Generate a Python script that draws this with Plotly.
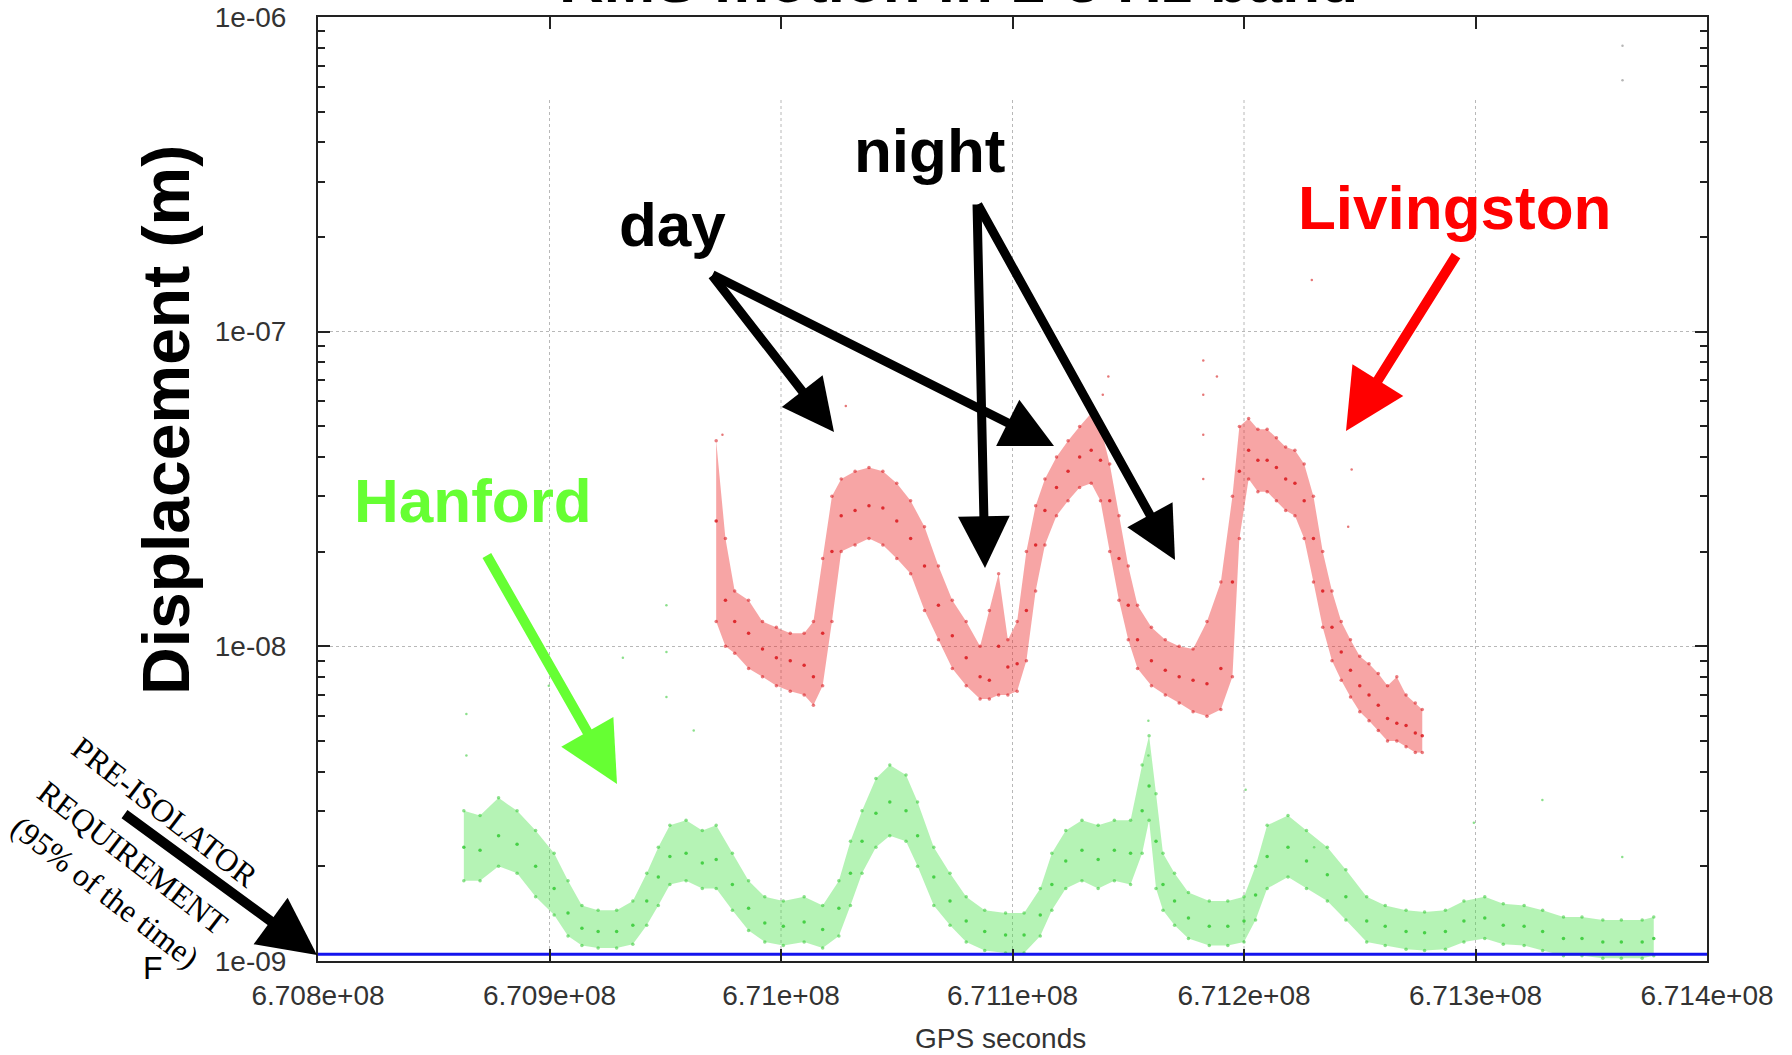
import plotly.graph_objects as go

# ---------------- data ----------------
LIV_T = [670972000, 670976000, 670980000, 670986000, 670992000, 670998000, 671004000, 671010000,
         671014000, 671018000, 671022000, 671026000, 671032000, 671038000, 671044000, 671050000,
         671056000, 671062000, 671068000, 671074000, 671080000, 671086000, 671090000, 671094000,
         671098000, 671102000, 671106000, 671110000, 671114000, 671119000, 671124000, 671129000,
         671134000, 671138000, 671142000, 671146000, 671150000, 671154000, 671160000, 671166000,
         671172000, 671178000, 671184000, 671190000, 671195000, 671198000, 671202000, 671206000,
         671210000, 671214000, 671218000, 671222000, 671226000, 671230000, 671234000, 671238000,
         671242000, 671246000, 671250000, 671254000, 671258000, 671262000, 671266000, 671270000,
         671274000, 671277000]
LIV_MED = [2.5e-8, 1.4e-8, 1.2e-8, 1.1e-8, 9.8e-9, 9.2e-9, 9.0e-9, 8.7e-9,
           8.0e-9, 1.1e-8, 2.0e-8, 2.6e-8, 2.7e-8, 2.8e-8, 2.75e-8, 2.5e-8,
           2.2e-8, 1.8e-8, 1.35e-8, 1.08e-8, 9.2e-9, 8.0e-9, 7.8e-9, 1.0e-8,
           8.6e-9, 8.8e-9, 1.3e-8, 2.1e-8, 2.7e-8, 3.2e-8, 3.6e-8, 4.0e-8,
           4.2e-8, 3.9e-8, 2.9e-8, 1.9e-8, 1.35e-8, 1.05e-8, 9.0e-9, 8.4e-9,
           8.0e-9, 7.8e-9, 7.6e-9, 8.5e-9, 1.6e-8, 3.6e-8, 4.2e-8, 3.9e-8,
           3.9e-8, 3.7e-8, 3.4e-8, 3.3e-8, 2.9e-8, 2.2e-8, 1.5e-8, 1.15e-8,
           9.6e-9, 8.4e-9, 7.5e-9, 7.0e-9, 6.5e-9, 5.9e-9, 5.7e-9, 5.6e-9,
           5.3e-9, 5.2e-9]
LIV_LO = [1.2e-8, 1.0e-8, 9.5e-9, 8.5e-9, 8.0e-9, 7.5e-9, 7.2e-9, 7.0e-9,
          6.5e-9, 7.5e-9, 1.2e-8, 2.0e-8, 2.1e-8, 2.2e-8, 2.1e-8, 1.9e-8,
          1.7e-8, 1.3e-8, 1.05e-8, 8.5e-9, 7.5e-9, 6.8e-9, 6.8e-9, 7.0e-9,
          7.0e-9, 7.2e-9, 9.0e-9, 1.5e-8, 2.1e-8, 2.6e-8, 2.9e-8, 3.2e-8,
          3.3e-8, 2.9e-8, 2.0e-8, 1.4e-8, 1.05e-8, 8.5e-9, 7.5e-9, 7.0e-9,
          6.6e-9, 6.2e-9, 6.0e-9, 6.3e-9, 8.0e-9, 2.2e-8, 3.4e-8, 3.1e-8,
          3.1e-8, 2.9e-8, 2.7e-8, 2.6e-8, 2.2e-8, 1.6e-8, 1.15e-8, 9.0e-9,
          7.8e-9, 6.9e-9, 6.2e-9, 5.8e-9, 5.4e-9, 5.0e-9, 5.0e-9, 4.8e-9,
          4.6e-9, 4.6e-9]
LIV_HI = [4.5e-8, 2.2e-8, 1.5e-8, 1.4e-8, 1.2e-8, 1.15e-8, 1.1e-8, 1.1e-8,
          1.2e-8, 1.9e-8, 3.0e-8, 3.4e-8, 3.6e-8, 3.7e-8, 3.6e-8, 3.3e-8,
          2.9e-8, 2.4e-8, 1.8e-8, 1.4e-8, 1.2e-8, 1.0e-8, 1.3e-8, 1.7e-8,
          1.05e-8, 1.2e-8, 2.0e-8, 2.8e-8, 3.4e-8, 4.0e-8, 4.5e-8, 5.0e-8,
          5.5e-8, 5.0e-8, 3.8e-8, 2.6e-8, 1.8e-8, 1.35e-8, 1.15e-8, 1.05e-8,
          1.0e-8, 9.8e-9, 1.2e-8, 1.6e-8, 3.0e-8, 5.0e-8, 5.3e-8, 4.9e-8,
          4.9e-8, 4.6e-8, 4.3e-8, 4.2e-8, 3.8e-8, 3.0e-8, 2.0e-8, 1.5e-8,
          1.2e-8, 1.05e-8, 9.3e-9, 8.8e-9, 8.2e-9, 7.5e-9, 8.0e-9, 7.0e-9,
          6.6e-9, 6.3e-9]

HAN_T = [670863000, 670870000, 670878000, 670886000, 670894000, 670902000, 670908000, 670914000,
         670921000, 670929000, 670936000, 670942000, 670947000, 670952000, 670959000, 670966000,
         670972000, 670979000, 670986000, 670993000, 671001000, 671010000, 671018000, 671025000,
         671030000, 671035000, 671041000, 671047000, 671054000, 671059000, 671066000, 671073000,
         671080000, 671088000, 671097000, 671105000, 671112000, 671117000, 671123000, 671130000,
         671137000, 671144000, 671151000, 671156000, 671159000, 671162000, 671165000, 671170000,
         671176000, 671185000, 671193000, 671200000, 671205000, 671210000, 671219000, 671227000,
         671236000, 671244000, 671253000, 671261000, 671270000, 671278000, 671287000, 671295000,
         671304000, 671312000, 671321000, 671329000, 671338000, 671346000, 671355000, 671363000,
         671372000, 671377000]
HAN_MED = [2.3e-9, 2.25e-9, 2.5e-9, 2.35e-9, 2.0e-9, 1.7e-9, 1.42e-9, 1.27e-9,
           1.24e-9, 1.24e-9, 1.3e-9, 1.55e-9, 1.85e-9, 2.15e-9, 2.2e-9, 2.05e-9,
           2.1e-9, 1.75e-9, 1.47e-9, 1.32e-9, 1.29e-9, 1.33e-9, 1.26e-9, 1.47e-9,
           1.9e-9, 2.4e-9, 2.95e-9, 3.2e-9, 3.0e-9, 2.5e-9, 1.85e-9, 1.55e-9,
           1.34e-9, 1.24e-9, 1.21e-9, 1.21e-9, 1.4e-9, 1.75e-9, 2.08e-9, 2.25e-9,
           2.1e-9, 2.25e-9, 2.2e-9, 3.0e-9, 3.6e-9, 2.4e-9, 1.75e-9, 1.55e-9,
           1.37e-9, 1.29e-9, 1.29e-9, 1.34e-9, 1.62e-9, 2.15e-9, 2.3e-9, 2.08e-9,
           1.88e-9, 1.6e-9, 1.34e-9, 1.29e-9, 1.24e-9, 1.23e-9, 1.24e-9, 1.34e-9,
           1.37e-9, 1.3e-9, 1.29e-9, 1.24e-9, 1.18e-9, 1.18e-9, 1.15e-9, 1.15e-9,
           1.15e-9, 1.18e-9]
HAN_LO = [1.8e-9, 1.8e-9, 2.0e-9, 1.9e-9, 1.6e-9, 1.4e-9, 1.2e-9, 1.12e-9,
          1.1e-9, 1.1e-9, 1.13e-9, 1.3e-9, 1.5e-9, 1.75e-9, 1.8e-9, 1.7e-9,
          1.7e-9, 1.45e-9, 1.25e-9, 1.15e-9, 1.12e-9, 1.15e-9, 1.1e-9, 1.2e-9,
          1.5e-9, 1.9e-9, 2.3e-9, 2.5e-9, 2.4e-9, 2.0e-9, 1.5e-9, 1.3e-9,
          1.15e-9, 1.08e-9, 1.06e-9, 1.06e-9, 1.2e-9, 1.45e-9, 1.7e-9, 1.8e-9,
          1.7e-9, 1.8e-9, 1.75e-9, 2.2e-9, 2.8e-9, 1.7e-9, 1.45e-9, 1.3e-9,
          1.18e-9, 1.12e-9, 1.12e-9, 1.15e-9, 1.35e-9, 1.7e-9, 1.85e-9, 1.7e-9,
          1.55e-9, 1.35e-9, 1.15e-9, 1.12e-9, 1.09e-9, 1.08e-9, 1.09e-9, 1.15e-9,
          1.18e-9, 1.13e-9, 1.12e-9, 1.08e-9, 1.04e-9, 1.04e-9, 1.02e-9, 1.02e-9,
          1.02e-9, 1.04e-9]
HAN_HI = [3.0e-9, 2.9e-9, 3.3e-9, 3.0e-9, 2.6e-9, 2.2e-9, 1.8e-9, 1.5e-9,
          1.45e-9, 1.45e-9, 1.55e-9, 1.9e-9, 2.3e-9, 2.7e-9, 2.8e-9, 2.6e-9,
          2.7e-9, 2.2e-9, 1.8e-9, 1.6e-9, 1.55e-9, 1.6e-9, 1.5e-9, 1.8e-9,
          2.4e-9, 3.0e-9, 3.8e-9, 4.2e-9, 3.9e-9, 3.2e-9, 2.3e-9, 1.9e-9,
          1.6e-9, 1.45e-9, 1.42e-9, 1.42e-9, 1.7e-9, 2.2e-9, 2.6e-9, 2.8e-9,
          2.7e-9, 2.8e-9, 2.8e-9, 4.2e-9, 5.2e-9, 3.4e-9, 2.2e-9, 1.9e-9,
          1.65e-9, 1.55e-9, 1.55e-9, 1.6e-9, 2.0e-9, 2.7e-9, 2.9e-9, 2.6e-9,
          2.3e-9, 1.95e-9, 1.6e-9, 1.5e-9, 1.45e-9, 1.43e-9, 1.45e-9, 1.55e-9,
          1.6e-9, 1.52e-9, 1.5e-9, 1.45e-9, 1.38e-9, 1.38e-9, 1.35e-9, 1.35e-9,
          1.35e-9, 1.38e-9]

HAN_OUT_T = [670864100, 670864100, 670950500, 670950500, 670950500, 670962300, 670931700,
             670899700, 671158700, 671158700, 671200700, 671230300, 671299300, 671328900, 671363400]
HAN_OUT_Y = [6.1e-9, 4.5e-9, 1.35e-8, 9.6e-9, 6.9e-9, 5.4e-9, 9.2e-9,
             7.5e-9, 5.8e-9, 4.5e-9, 3.5e-9, 2.3e-9, 2.75e-9, 3.25e-9, 2.14e-9]
LIV_OUT_T = [671182400, 671182400, 671182400, 671182400, 671188300, 671229300, 671141400,
             671139000, 671008200, 671028000, 670974700, 671246500, 671245000]
LIV_OUT_Y = [8.1e-8, 6.3e-8, 4.7e-8, 3.4e-8, 7.2e-8, 1.46e-7, 7.2e-8,
             6.3e-8, 6.6e-8, 5.8e-8, 4.7e-8, 3.65e-8, 2.4e-8]
STRAY_T = [671363500, 671363500]
STRAY_Y = [8.1e-7, 6.3e-7]

REQUIREMENT = 1.05e-9
X_TICKS = [6.708e8, 6.709e8, 6.710e8, 6.711e8, 6.712e8, 6.713e8, 6.714e8]
X_TICK_TEXT = ["6.708e+08", "6.709e+08", "6.71e+08", "6.711e+08", "6.712e+08", "6.713e+08", "6.714e+08"]
Y_TICKS = [1e-9, 1e-8, 1e-7, 1e-6]
Y_TICK_TEXT = ["1e-09", "1e-08", "1e-07", "1e-06"]
Y_MINOR = [m * 10.0 ** e for e in (-9, -8, -7) for m in range(2, 10)]

# ---------------- layout geometry (pixels) ----------------
W, H = 1792, 1055
L, R, T, B = 318, 85, 17, 94
PW, PH = W - L - R, H - T - B


def px_x(p):
    return (p - L) / PW


def px_y(p):
    return (H - B - p) / PH


SANS = "Liberation Sans, Arial, sans-serif"
BOLD = "Liberation Sans, Arial, sans-serif"
SERIF = "Liberation Serif, Times New Roman, serif"

RED_FILL = "rgba(235,40,40,0.42)"
RED_DOT = "rgba(215,15,20,0.9)"
GRN_FILL = "rgba(70,225,70,0.40)"
GRN_DOT = "rgba(45,200,45,0.9)"

fig = go.Figure()


def add_cloud(t, lo, med, hi, fill, dot):
    fig.add_trace(go.Scatter(x=t, y=hi, mode="lines", line=dict(width=0),
                             showlegend=False, hoverinfo="skip"))
    fig.add_trace(go.Scatter(x=t, y=lo, mode="lines", line=dict(width=0),
                             fill="tonexty", fillcolor=fill, showlegend=False, hoverinfo="skip"))
    for arr, op in ((med, 0.9), (lo, 0.6), (hi, 0.6)):
        fig.add_trace(go.Scatter(x=t, y=arr, mode="markers", showlegend=False,
                                 marker=dict(size=3.5, color=dot, opacity=op, line=dict(width=0))))


add_cloud(HAN_T, HAN_LO, HAN_MED, HAN_HI, GRN_FILL, GRN_DOT)
add_cloud(LIV_T, LIV_LO, LIV_MED, LIV_HI, RED_FILL, RED_DOT)

fig.add_trace(go.Scatter(x=HAN_OUT_T, y=HAN_OUT_Y, mode="markers", showlegend=False,
                         marker=dict(size=2.5, color="rgba(90,210,90,0.7)")))
fig.add_trace(go.Scatter(x=LIV_OUT_T, y=LIV_OUT_Y, mode="markers", showlegend=False,
                         marker=dict(size=2.5, color="rgba(220,60,60,0.7)")))
fig.add_trace(go.Scatter(x=STRAY_T, y=STRAY_Y, mode="markers", showlegend=False,
                         marker=dict(size=2.5, color="rgba(150,150,150,0.7)")))

# requirement line
fig.add_trace(go.Scatter(x=[X_TICKS[0], X_TICKS[-1]], y=[REQUIREMENT, REQUIREMENT], mode="lines",
                         line=dict(color="#1414ee", width=3), showlegend=False))

# vertical dotted gridlines (they stop below the title area)
for v in X_TICKS[1:-1]:
    fig.add_shape(type="line", x0=v, x1=v, xref="x", y0=0, y1=px_y(97), yref="paper",
                  line=dict(color="#b8b8b8", width=1, dash="dot"), layer="below")

axis_common = dict(showline=True, linecolor="#222222", linewidth=2, mirror="ticks",
                   ticks="inside", ticklen=12, tickwidth=2, tickcolor="#222222",
                   tickfont=dict(family=SANS, size=28, color="#333333"), zeroline=False)

fig.update_xaxes(range=[X_TICKS[0], X_TICKS[-1]], tickvals=X_TICKS, ticktext=X_TICK_TEXT,
                 showgrid=False, ticklabelstandoff=8, **axis_common)
fig.update_yaxes(type="log", range=[-9.00001, -5.99999], tickvals=Y_TICKS, ticktext=Y_TICK_TEXT,
                 showgrid=True, gridcolor="#b8b8b8", griddash="dot", gridwidth=1,
                 ticklabelstandoff=24,
                 minor=dict(tickvals=Y_MINOR, ticks="inside", ticklen=7, tickwidth=2,
                            tickcolor="#222222", showgrid=False),
                 **axis_common)

ann = []


def text(s, x, y, size, color="black", family=BOLD, angle=0, bold=True, xanchor="center", yanchor="middle"):
    ann.append(dict(text=("<b>%s</b>" % s) if bold else s, x=px_x(x), y=px_y(y), xref="paper", yref="paper",
                    showarrow=False, textangle=angle, xanchor=xanchor, yanchor=yanchor,
                    font=dict(family=family, size=size, color=color)))


def arrow(tail, tip, color, width, size=1.15):
    ann.append(dict(text="", x=px_x(tip[0]), y=px_y(tip[1]), xref="paper", yref="paper",
                    ax=tail[0] - tip[0], ay=tail[1] - tip[1], axref="pixel", ayref="pixel",
                    showarrow=True, arrowhead=2, arrowwidth=width, arrowsize=size,
                    arrowcolor=color, standoff=0, startstandoff=0))


text("RMS motion in 1-3 Hz band", 958, 17, 62, yanchor="bottom")
text("Displacement (m)", 166, 420, 66, angle=-90)
text("night", 930, 150, 62)
text("day", 672, 224, 62)
text("Livingston", 1454, 208, 62, color="#ff0000")
text("Hanford", 473, 501, 62, color="#66ff33")
text("GPS seconds", 1000, 1038, 28, color="#333333", family=SANS, bold=False)
text("PRE-ISOLATOR", 165, 812, 32, family=SERIF, angle=37.6, bold=False)
text("REQUIREMENT", 133, 858, 32, family=SERIF, angle=37.6, bold=False)
text("(95% of the time)", 105, 892, 32, family=SERIF, angle=37.6, bold=False)
text("F", 153, 968, 32, family=SANS, bold=False)

ann.append(dict(text="1.05e-09", x=670806000, y=REQUIREMENT, xref="x", yref="y", yshift=2,
                xanchor="left", yanchor="bottom", showarrow=False,
                font=dict(family=SANS, size=27, color="#3030c8")))

arrow((711, 274), (834, 432), "black", 9)
arrow((711, 274), (1054, 446), "black", 9)
arrow((977, 203), (985, 568), "black", 9)
arrow((977, 203), (1175, 560), "black", 9)
arrow((1457, 254), (1346, 431), "#ff0000", 10, 1.2)
arrow((486, 554), (617, 784), "#66ff33", 10, 1.2)
arrow((123, 813), (317, 955), "black", 10)

fig.update_layout(width=W, height=H, margin=dict(l=L, r=R, t=T, b=B, autoexpand=False),
                  paper_bgcolor="white", plot_bgcolor="white", annotations=ann, showlegend=False)

fig.write_html("out.html", config={"displayModeBar": False},
               post_script="document.body.style.margin='0px';")
